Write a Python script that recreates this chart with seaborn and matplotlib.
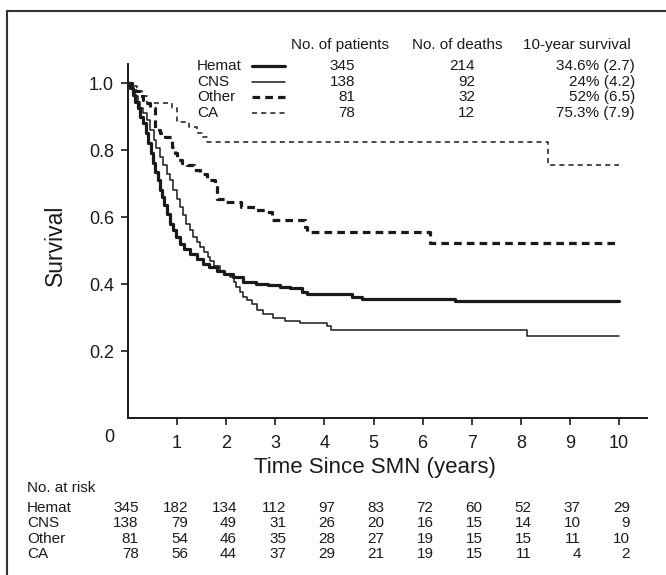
import seaborn as sns
import matplotlib.pyplot as plt
from matplotlib.lines import Line2D

# survival curves (time in years, survival)
hemat_t = [0, 0.05, 0.1, 0.15, 0.2, 0.25, 0.31, 0.36, 0.41, 0.46, 0.51, 0.56, 0.61, 0.66, 0.69,
           0.74, 0.8, 0.86, 0.92, 0.98, 1.06, 1.15, 1.26, 1.4, 1.53, 1.65, 1.81, 1.95, 2.14, 2.35,
           2.6, 2.85, 3.1, 3.3, 3.55, 3.65, 4.56, 4.76, 6.66, 10.0]
hemat_s = [1.0, 0.985, 0.965, 0.945, 0.925, 0.9, 0.88, 0.85, 0.82, 0.79, 0.76, 0.735, 0.71, 0.68,
           0.66, 0.635, 0.61, 0.58, 0.56, 0.54, 0.52, 0.505, 0.49, 0.475, 0.46, 0.45, 0.44, 0.43,
           0.42, 0.405, 0.40, 0.397, 0.392, 0.388, 0.376, 0.37, 0.361, 0.355, 0.349, 0.349]
cns_t = [0, 0.05, 0.1, 0.15, 0.2, 0.25, 0.3, 0.38, 0.45, 0.52, 0.58, 0.65, 0.72, 0.79, 0.86, 0.92,
         0.99, 1.06, 1.12, 1.19, 1.26, 1.33, 1.4, 1.47, 1.55, 1.62, 1.67, 1.75, 1.87, 1.95, 2.08,
         2.15, 2.2, 2.28, 2.35, 2.42, 2.52, 2.62, 2.75, 2.96, 3.2, 3.5, 4.05, 4.13, 8.12, 10.0]
cns_s = [1.0, 0.99, 0.975, 0.96, 0.945, 0.925, 0.91, 0.89, 0.86, 0.83, 0.805, 0.78, 0.755, 0.73,
         0.71, 0.68, 0.655, 0.63, 0.605, 0.58, 0.56, 0.54, 0.525, 0.51, 0.495, 0.48, 0.47, 0.455,
         0.436, 0.43, 0.42, 0.405, 0.39, 0.375, 0.362, 0.352, 0.34, 0.322, 0.31, 0.298, 0.29,
         0.283, 0.275, 0.263, 0.245, 0.245]
other_t = [0, 0.08, 0.15, 0.23, 0.31, 0.38, 0.45, 0.55, 0.65, 0.75, 0.89, 0.95, 1.0, 1.1, 1.2,
           1.35, 1.47, 1.6, 1.77, 1.81, 2.0, 2.3, 2.6, 2.83, 2.93, 3.6, 3.64, 6.15, 10.0]
other_s = [1.0, 0.99, 0.975, 0.96, 0.95, 0.94, 0.925, 0.86, 0.85, 0.84, 0.81, 0.79, 0.77, 0.76,
           0.755, 0.74, 0.73, 0.71, 0.695, 0.655, 0.645, 0.63, 0.62, 0.615, 0.59, 0.57, 0.555,
           0.522, 0.522]
ca_t = [0, 0.1, 0.18, 0.28, 0.38, 0.9, 1.0, 1.25, 1.4, 1.5, 1.6, 8.55, 10.0]
ca_s = [1.0, 0.99, 0.975, 0.96, 0.94, 0.925, 0.885, 0.87, 0.85, 0.84, 0.825, 0.755, 0.755]

groups = ["Hemat", "CNS", "Other", "CA"]
patients = [345, 138, 81, 78]
deaths = [214, 92, 32, 12]
survival10 = ["34.6% (2.7)", "24% (4.2)", "52% (6.5)", "75.3% (7.9)"]

risk_times = [0, 1, 2, 3, 4, 5, 6, 7, 8, 9, 10]
risk_hemat = [345, 182, 134, 112, 97, 83, 72, 60, 52, 37, 29]
risk_cns = [138, 79, 49, 31, 26, 20, 16, 15, 14, 10, 9]
risk_other = [81, 54, 46, 35, 28, 27, 19, 15, 15, 11, 10]
risk_ca = [78, 56, 44, 37, 29, 21, 19, 15, 11, 4, 2]

sns.set_style("ticks")
plt.rcParams['font.family'] = ['Liberation Sans', 'DejaVu Sans']
ink = "#1a1a1a"

W, H = 666, 575
fig = plt.figure(figsize=(W / 100, H / 100), dpi=100)
ax = fig.add_axes([128 / W, 1 - 418 / H, (647 - 128) / W, (418 - 64) / H])

styles = [
    dict(lw=2.3, ls="-"),
    dict(lw=1.1, ls="-"),
    dict(lw=2.3, ls=(0, (2.4, 1.6))),
    dict(lw=1.1, ls=(0, (3.3, 2.7))),
]
curves = [(hemat_t, hemat_s), (cns_t, cns_s), (other_t, other_s), (ca_t, ca_s)]
for (t, s), st in zip(curves, styles):
    sns.lineplot(x=t, y=s, ax=ax, color=ink, estimator=None, drawstyle="steps-post",
                 linewidth=st["lw"], linestyle=st["ls"])

ax.set_xlim(0, 10.57)
ax.set_ylim(0, 1.057)
ax.set_xticks(range(1, 11))
ax.set_yticks([0.2, 0.4, 0.6, 0.8, 1.0])
ax.set_yticklabels(["0.2", "0.4", "0.6", "0.8", "1.0"])
sns.despine(ax=ax)
for sp in ["left", "bottom"]:
    ax.spines[sp].set_linewidth(1.4)
    ax.spines[sp].set_color(ink)
ax.tick_params(axis="both", length=5, width=1.2, color=ink, labelsize=13, labelcolor=ink)
ax.tick_params(axis="x", pad=7)
ax.tick_params(axis="y", pad=5)
fig.text(109 / W, 1 - 438 / H, "0", ha="center", va="center", fontsize=13, color=ink)

ax.set_xlabel("")
ax.set_ylabel("")
fig.text(375 / W, 1 - 467 / H, "Time Since SMN (years)", ha="center", va="center",
         fontsize=16, color=ink)
fig.text(55 / W, 1 - 245 / H, "Survival", ha="center", va="center", rotation=90,
         fontsize=16.5, color=ink)

# legend table
fs = 11
fig.text(340 / W, 1 - 45 / H, "No. of patients", ha="center", va="center", fontsize=fs, color=ink)
fig.text(457 / W, 1 - 45 / H, "No. of deaths", ha="center", va="center", fontsize=fs, color=ink)
fig.text(577 / W, 1 - 45 / H, "10-year survival", ha="center", va="center", fontsize=fs, color=ink)
rows_y = [66, 82, 97, 113]
for i, g in enumerate(groups):
    yy = 1 - rows_y[i] / H
    fig.text(197 / W, yy, g, ha="left", va="center", fontsize=fs, color=ink)
    fig.add_artist(Line2D([252 / W, 285 / W], [yy, yy], color=ink,
                          linewidth=styles[i]["lw"], linestyle=styles[i]["ls"]))
    fig.text(355 / W, yy, str(patients[i]), ha="right", va="center", fontsize=fs, color=ink)
    fig.text(475 / W, yy, str(deaths[i]), ha="right", va="center", fontsize=fs, color=ink)
    fig.text(635 / W, yy, survival10[i], ha="right", va="center", fontsize=fs, color=ink)

# number at risk table
fig.text(27 / W, 1 - 488 / H, "No. at risk", ha="left", va="center", fontsize=11, color=ink)
risk_rows = [risk_hemat, risk_cns, risk_other, risk_ca]
risk_y = [508, 523, 539, 554]
xt = ax.get_xaxis_transform()
for i, g in enumerate(groups):
    ya = (418 - risk_y[i]) / (418 - 64)
    fig.text(27 / W, 1 - risk_y[i] / H, g, ha="left", va="center", fontsize=11, color=ink)
    for t, n in zip(risk_times, risk_rows[i]):
        ax.text(t + 0.22, ya, str(n), transform=xt, ha="right", va="center", fontsize=11,
                color=ink, clip_on=False)

# outer frame (left and top edges visible)
fig.add_artist(Line2D([7 / W, 7 / W], [0, 1 - 11 / H], color="#333333", linewidth=1.5))
fig.add_artist(Line2D([7 / W, 1], [1 - 11 / H, 1 - 11 / H], color="#333333", linewidth=1.5))

fig.savefig("out.png", dpi=100)
